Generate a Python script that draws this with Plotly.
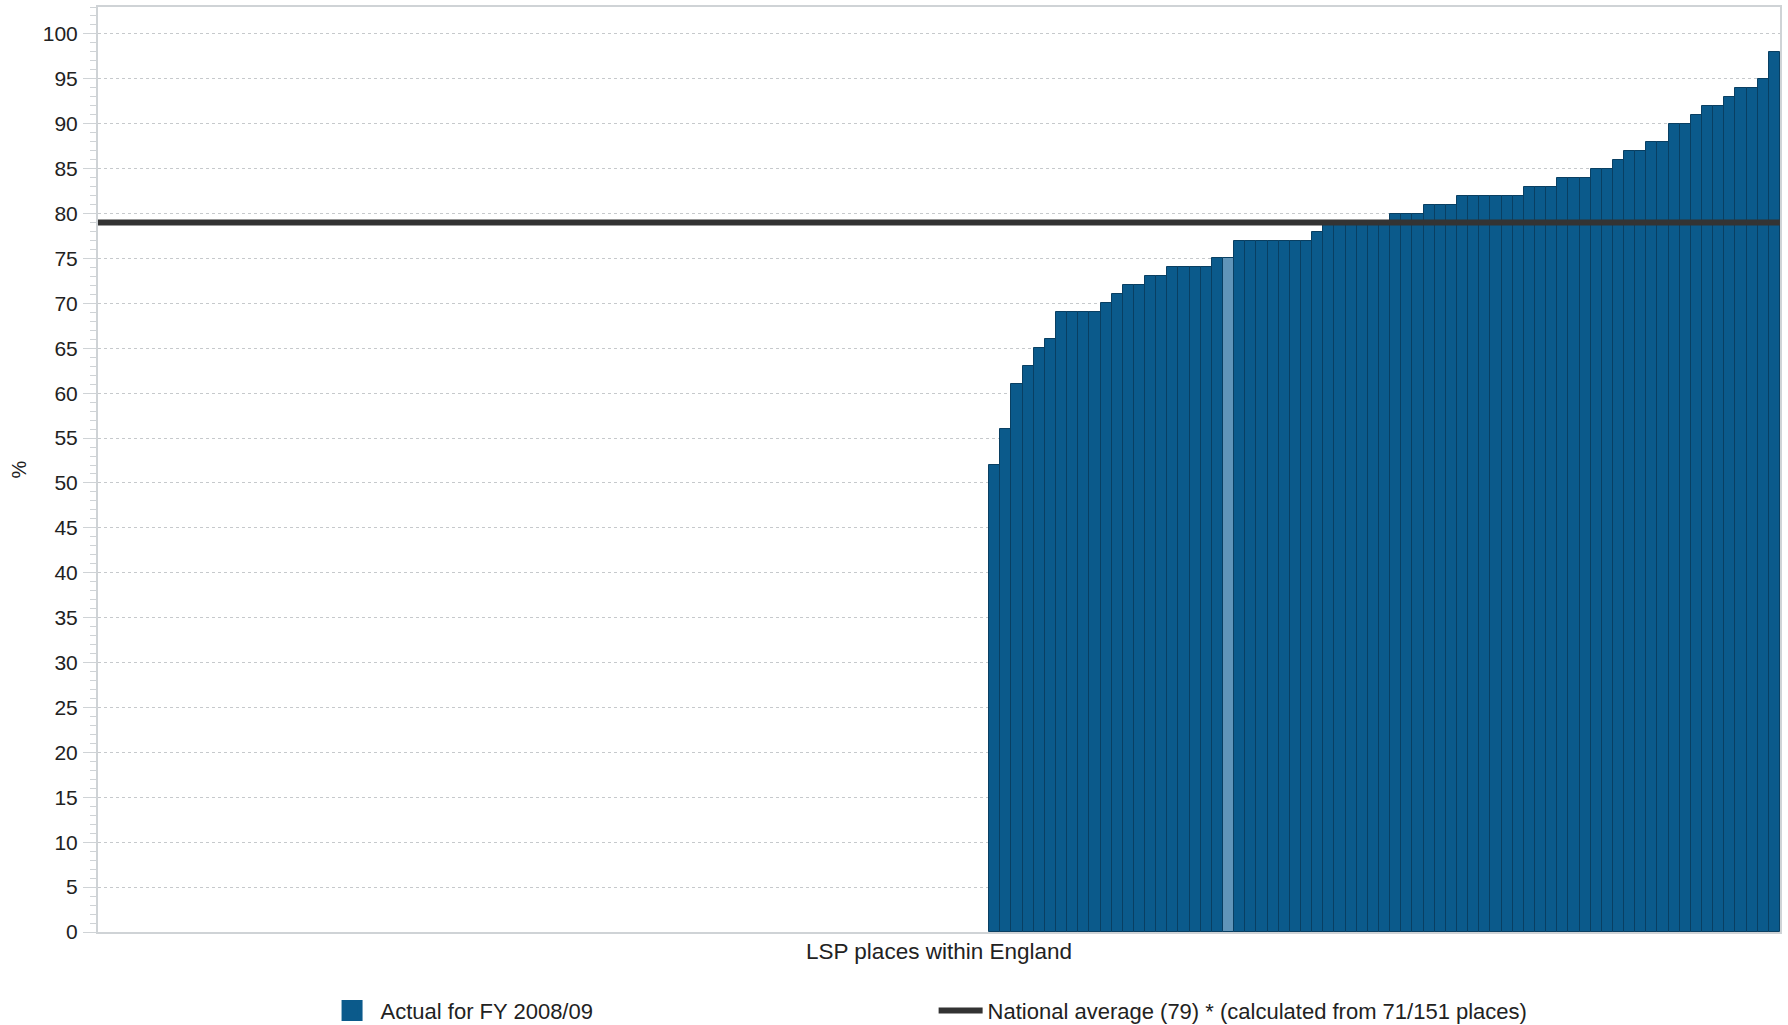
import plotly.graph_objects as go

# ---- data ----
N_PLACES = 151
# places with a value (position along the x axis, 0-based)
place_index = list(range(80, 151))
actual_values = [
    52, 56, 61, 63, 65, 66, 69, 69, 69, 69,
    70, 71, 72, 72, 73, 73, 74, 74, 74, 74,
    75, 75, 77, 77, 77, 77, 77, 77, 77, 78,
    79, 79, 79, 79, 79, 79, 80, 80, 80, 81,
    81, 81, 82, 82, 82, 82, 82, 82, 83, 83,
    83, 84, 84, 84, 85, 85, 86, 87, 87, 88,
    88, 90, 90, 91, 92, 92, 93, 94, 94, 95,
    98,
]
highlight_place = 101
national_average = 79
y_ticks = list(range(0, 101, 5))

BAR_COLOR = "#0b5a8b"
BAR_HILITE = "#6195b9"
BAR_EDGE = "#093f62"
LINE_COLOR = "#333333"
TEXT_COLOR = "#222222"
AXIS_GREY = "#cfd3d6"
FONT = "Liberation Sans, Arial, sans-serif"

colors = [BAR_HILITE if p == highlight_place else BAR_COLOR for p in place_index]

fig = go.Figure()

fig.add_trace(
    go.Bar(
        x=place_index,
        y=actual_values,
        marker=dict(color=colors, line=dict(color=BAR_EDGE, width=1)),
        showlegend=False,
        hovertemplate="%{y}%<extra></extra>",
    )
)

# legend proxy for the bars (bigger square than the default bar swatch)
fig.add_trace(
    go.Scatter(
        x=[None],
        y=[None],
        mode="markers",
        marker=dict(symbol="square", size=16, color=BAR_COLOR,
                    line=dict(color=BAR_COLOR, width=5)),
        name="Actual for FY 2008/09",
        legend="legend",
    )
)

fig.add_trace(
    go.Scatter(
        x=[-0.5, N_PLACES - 0.5],
        y=[national_average, national_average],
        mode="lines",
        line=dict(color=LINE_COLOR, width=6),
        name="National average (%d) * (calculated from %d/%d places)"
        % (national_average, len(actual_values), N_PLACES),
        legend="legend2",
        hoverinfo="skip",
    )
)

fig.update_layout(
    width=1788,
    height=1025,
    margin=dict(l=98, r=8, t=7, b=93, autoexpand=False),
    plot_bgcolor="white",
    paper_bgcolor="white",
    bargap=0,
    font=dict(family=FONT, size=21, color=TEXT_COLOR),
    xaxis=dict(
        range=[-0.5, N_PLACES - 0.5],
        automargin=False,
        showticklabels=False,
        ticks="",
        showgrid=False,
        zeroline=False,
        showline=True,
        linecolor=AXIS_GREY,
        linewidth=2,
        mirror=True,
        title=dict(text="LSP places within England", standoff=10,
                   font=dict(size=22.5)),
    ),
    yaxis=dict(
        range=[0, 103],
        automargin=False,
        tickvals=y_ticks,
        ticks="outside",
        ticklen=13,
        tickcolor=AXIS_GREY,
        ticklabelstandoff=1,
        showgrid=True,
        gridcolor="#c6c9cc",
        griddash="dot",
        gridwidth=1,
        zeroline=False,
        showline=True,
        linecolor=AXIS_GREY,
        linewidth=2,
        mirror=True,
        minor=dict(dtick=1, ticks="outside", ticklen=6, tickcolor=AXIS_GREY,
                   showgrid=False),
        title=dict(text="%", standoff=11, font=dict(size=20)),
    ),
    legend=dict(
        orientation="h",
        x=0.1341,
        y=-0.085,
        xanchor="left",
        yanchor="middle",
        itemwidth=47,
        bgcolor="rgba(0,0,0,0)",
        font=dict(size=22),
    ),
    legend2=dict(
        orientation="h",
        x=0.4968,
        y=-0.085,
        xanchor="left",
        yanchor="middle",
        itemwidth=44,
        bgcolor="rgba(0,0,0,0)",
        font=dict(size=22),
    ),
)

# page has no body margin, so the figure sits at the window's top-left corner
fig.write_html(
    "out.html",
    config={"displayModeBar": False},
    post_script="document.body.style.margin='0';",
)
